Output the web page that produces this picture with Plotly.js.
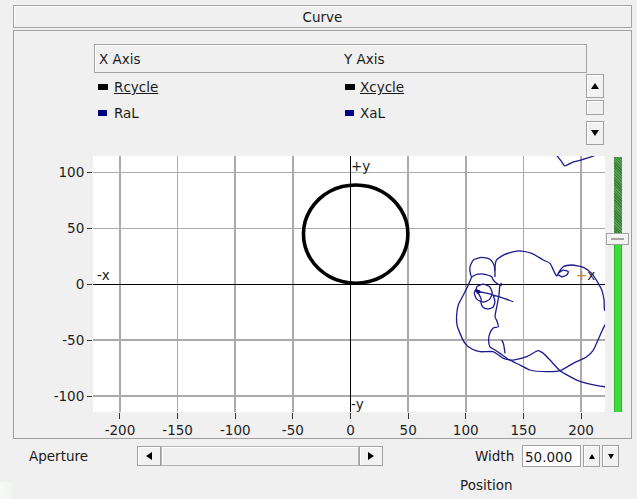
<!DOCTYPE html>
<html>
<head>
<meta charset="utf-8">
<script src="https://cdn.plot.ly/plotly-3.0.1.min.js"></script>
<style>
  html, body { margin: 0; padding: 0; background: #f0f0f0; }
  #wrap { position: relative; width: 637px; height: 499px; overflow: hidden; background: #f0f0f0;
          font-family: 'DejaVu Sans', sans-serif; font-size: 13.5px; color: #1a1a1a; }
  #plot { position: absolute; left: 0; top: 0; width: 637px; height: 499px; }
  .ui { position: absolute; z-index: 2; box-sizing: border-box; }
  .txt { position: absolute; z-index: 3; white-space: nowrap; line-height: 16px; }
  .box { border: 1px solid #a4a4a4; box-shadow: inset 1px 1px 0 #ffffff; background: #f0f0f0; }
  .btn { border: 1px solid #a0a0a0; box-shadow: inset 1px 1px 0 #ffffff; background: #f2f2f2;
         display: flex; align-items: center; justify-content: center; }
  .up { width: 0; height: 0; border-left: 4px solid transparent; border-right: 4px solid transparent; border-bottom: 6px solid #000; }
  .down { width: 0; height: 0; border-left: 4px solid transparent; border-right: 4px solid transparent; border-top: 6px solid #000; }
  .left { width: 0; height: 0; border-top: 4px solid transparent; border-bottom: 4px solid transparent; border-right: 6px solid #000; }
  .right { width: 0; height: 0; border-top: 4px solid transparent; border-bottom: 4px solid transparent; border-left: 6px solid #000; }
</style>
</head>
<body>
<div id="wrap">
  <div id="plot"></div>

  <!-- panel header -->
  <div class="ui box" style="left:13px;top:5px;width:619px;height:23px;"></div>
  <div class="txt" style="left:13px;top:9px;width:619px;text-align:center;">Curve</div>

  <!-- group frame -->
  <div class="ui" style="left:13px;top:30px;width:619px;height:409px;border:1px solid #a0a0a0;"></div>

  <!-- curve list header -->
  <div class="ui box" style="left:94px;top:44px;width:493px;height:29px;"></div>
  <div class="txt" style="left:99px;top:51px;">X Axis</div>
  <div class="txt" style="left:344px;top:51px;">Y Axis</div>

  <!-- curve list rows -->
  <div class="ui" style="left:98px;top:84px;width:10px;height:6px;background:#000;"></div>
  <div class="txt" style="left:114px;top:79px;text-decoration:underline;">Rcycle</div>
  <div class="ui" style="left:345px;top:84px;width:10px;height:6px;background:#000;"></div>
  <div class="txt" style="left:360px;top:79px;text-decoration:underline;">Xcycle</div>
  <div class="ui" style="left:98px;top:110px;width:9px;height:6px;background:#000080;"></div>
  <div class="txt" style="left:114px;top:105px;">RaL</div>
  <div class="ui" style="left:345px;top:110px;width:9px;height:6px;background:#000080;"></div>
  <div class="txt" style="left:360px;top:105px;">XaL</div>

  <!-- list scroll buttons -->
  <div class="ui btn" style="left:586px;top:74px;width:18px;height:24px;"><div class="up"></div></div>
  <div class="ui box" style="left:586px;top:100px;width:18px;height:15px;"></div>
  <div class="ui btn" style="left:586px;top:121px;width:18px;height:24px;"><div class="down"></div></div>

  <!-- position slider -->
  <div class="ui" style="left:614px;top:157px;width:8px;height:77px;background:#448e44;
       background-image:repeating-linear-gradient(45deg,#3a7f3a 0 1px,#55a255 1px 2px);"></div>
  <div class="ui" style="left:614px;top:245px;width:8px;height:167px;background:#3ddc3d;
       box-shadow: inset 1px 0 0 #2fb62f, inset -1px 0 0 #2fb62f;"></div>
  <div class="ui btn" style="left:606px;top:233px;width:23px;height:12px;"></div>
  <div class="ui" style="left:611px;top:238px;width:13px;height:2px;background:#a6a6a6;"></div>

  <!-- aperture row -->
  <div class="txt" style="left:29px;top:448px;">Aperture</div>
  <div class="ui btn" style="left:137px;top:446px;width:24px;height:20px;"><div class="left"></div></div>
  <div class="ui box" style="left:161px;top:446px;width:198px;height:20px;border-color:#b4b4b4;"></div>
  <div class="ui btn" style="left:359px;top:446px;width:24px;height:20px;"><div class="right"></div></div>

  <div class="txt" style="left:475px;top:448px;">Width</div>
  <div class="ui" style="left:522px;top:445px;width:59px;height:22px;background:#fff;border:1px solid #a0a0a0;"></div>
  <div class="txt" style="left:525px;top:449px;">50.000</div>
  <div class="ui btn" style="left:583px;top:445px;width:17px;height:22px;"><div class="up" style="border-left-width:3px;border-right-width:3px;border-bottom-width:5px;"></div></div>
  <div class="ui btn" style="left:602px;top:445px;width:17px;height:22px;"><div class="down" style="border-left-width:3px;border-right-width:3px;border-top-width:5px;"></div></div>

  <div class="txt" style="left:460px;top:477px;">Position</div>

  <div class="ui" style="left:0;top:482px;width:13px;height:17px;background:linear-gradient(90deg,#f7fbf7,#eef4ee);"></div>
</div>

<script>
// Axis ticks
const xTicks = [-200, -150, -100, -50, 0, 50, 100, 150, 200];
const yTicks = [-100, -50, 0, 50, 100];

// Reference cycle (R, X)
const Rcycle = [49.8, 48.3, 43.7, 36.5, 27.2, 16.2, 4.5, -7.2, -18.2, -27.5, -34.7, -39.3,
                -40.8, -39.3, -34.7, -27.5, -18.2, -7.2, 4.5, 16.2, 27.2, 36.5, 43.7, 48.3, 49.8];
const Xcycle = [45, 56.4, 67, 76.1, 83.1, 87.5, 89, 87.5, 83.1, 76.1, 67, 56.4,
                45, 33.6, 23, 13.9, 6.9, 2.5, 1, 2.5, 6.9, 13.9, 23, 33.6, 45];

// Apparent impedance trajectory (R, X); null separates visible pieces
const RaL = [
  177, 183, 186, 192, 199, 211, 217,
  null,
  125.4, 125.4, 126.5, 132.6, 138.4, 144.2, 148.5, 157.2, 167.3, 173.1, 176.0, 178.9,
  180.3, 184.6, 189.0, 187.6, 183.3, 180.0, 184.6, 191.9, 202.0, 209.3, 215.0, 218.0,
  220.0, 220.5, 227, 220.8, 210.7, 204.9, 193.3, 181.8, 170.2, 155.7, 147.1, 136.9,
  129.7, 125.4, 121.0, 119.8, 121.0, 123.9, 128.2, 127.1, 125.4, 126.9, 128.8, 129.7, 131.2,
  null,
  141.3, 130, 119, 111.5, 109, 109.7, 115.2, 120.7, 123, 120.7, 115.2, 109.7, 107.4, 109,
  113.3, 113.3, 115, 119.3, 123.6, 125.3, 124,
  null,
  125.4, 124.5, 121.0, 113.8, 106.6, 103.7, 104.1, 105.2, 109.5, 116.7, 122.5, 123.9, 126.9, 131.2,
  null,
  105.2, 102.2, 97.9, 93.5, 92.1, 92.4, 95.0, 99.3, 105.4, 112.4, 123.6, 132.3, 139.9,
  152.9, 162.9, 167.3, 173.1, 181.8, 196.3, 207.8, 220.8, 229.5,
  null,
  131.2, 132.6, 134.1
];
const XaL = [
  118, 110, 106, 109, 111, 115, 118,
  null,
  6.5, 15.8, 21.5, 26.2, 28.3, 29.8, 29.8, 27.8, 21.8, 18.8, 12.8, 7.4,
  9.8, 12.8, 11.3, 8.3, 6.8, 9.2, 15.8, 17.3, 15.2, 9.8, 0.9, -5.1,
  -14.1, -23.0, -30, -36.4, -58.8, -64.8, -70.7, -77.3, -78.2, -76.7, -72.3, -67.1,
  -61.8, -58.8, -55.9, -49.9, -43.6, -39.1, -38.0, -32.9, -29.0, -20.1, -9.6, -0.6, 0.9,
  null,
  -15.6, -11.5, -8, -6.5, -5, -2.1, 0.2, -2.1, -7.8, -13.5, -15.8, -13.5, -7.8, -5,
  -13, -17, -20.5, -22, -20.5, -15.8, -10,
  null,
  12, 17.3, 22.4, 24.2, 21.8, 15.8, 9.2, 6.8, 9.0, 9.0, 6.8, 3.8, 0.9, -1.5,
  null,
  6.8, -0.6, -9.6, -18.5, -27.5, -36.4, -43.9, -52.8, -57.9, -60.3, -60.3, -66.0, -67.8,
  -64.8, -59.4, -61.8, -67.8, -77.3, -85.7, -89.3, -91.7, -92.8,
  null,
  -49.9, -52.8, -61.8
];

// Dense knot of the trajectory where the path retraces itself
const RaLKnot = [108.5, 110.5, 112.5];
const XaLKnot = [-4.5, -7, -6];

const traces = [
  {
    x: Rcycle, y: Xcycle, name: 'Rcycle / Xcycle', type: 'scatter', mode: 'lines',
    line: { color: '#000000', width: 3.6, shape: 'spline', smoothing: 1 },
    hoverinfo: 'skip'
  },
  {
    x: RaL, y: XaL, name: 'RaL / XaL', type: 'scatter', mode: 'lines',
    line: { color: '#1c1c8e', width: 1.3, shape: 'spline', smoothing: 0.6 }, connectgaps: false,
    hoverinfo: 'skip'
  },
  {
    x: RaLKnot, y: XaLKnot, name: 'RaL / XaL', type: 'scatter', mode: 'lines',
    line: { color: '#14147a', width: 3 },
    hoverinfo: 'skip'
  }
];

const axisCommon = {
  tickmode: 'array', ticks: 'outside', tickwidth: 1, tickcolor: '#333333',
  showgrid: true, gridcolor: '#ababab', gridwidth: 1.5,
  zeroline: true, zerolinecolor: '#000000', zerolinewidth: 1.5,
  showline: false, fixedrange: true,
  tickfont: { family: 'DejaVu Sans', size: 13.5, color: '#1e1e1e' }
};

const layout = {
  width: 637, height: 499,
  margin: { l: 93, r: 32, t: 156, b: 87, pad: 0 },
  paper_bgcolor: '#f0f0f0', plot_bgcolor: '#ffffff',
  showlegend: false,
  font: { family: 'DejaVu Sans', size: 13.5, color: '#1e1e1e' },
  xaxis: Object.assign({}, axisCommon, {
    range: [-223.4, 220.8], tickvals: xTicks, ticktext: xTicks.map(String), ticklen: 6
  }),
  yaxis: Object.assign({}, axisCommon, {
    range: [-114.3, 114.9], tickvals: yTicks, ticktext: yTicks.map(String), ticklen: 5
  }),
  annotations: [
    { text: '+y', x: 0, y: 106, xref: 'x', yref: 'y', xanchor: 'left', yanchor: 'middle', showarrow: false, xshift: -2 },
    { text: '-y', x: 0, y: -107, xref: 'x', yref: 'y', xanchor: 'left', yanchor: 'middle', showarrow: false, xshift: -2 },
    { text: '-x', x: -222, y: 8.5, xref: 'x', yref: 'y', xanchor: 'left', yanchor: 'middle', showarrow: false },
    { text: '<span style="color:#d0802a">+</span><span style="color:#2e2440">x</span>', x: 194, y: 8.5,
      xref: 'x', yref: 'y', xanchor: 'left', yanchor: 'middle', showarrow: false }
  ]
};

Plotly.newPlot('plot', traces, layout, { displayModeBar: false, staticPlot: true });
</script>
</body>
</html>
